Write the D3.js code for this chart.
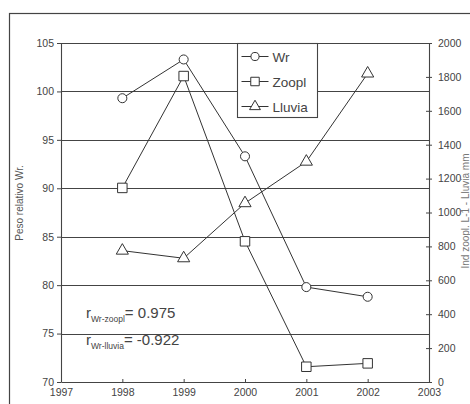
<!DOCTYPE html>
<html>
<head>
<meta charset="utf-8">
<script src="https://cdn.jsdelivr.net/npm/d3@7"></script>
<style>
  body { margin: 0; background: #fff; }
  svg { font-family: "Liberation Sans", Arial, sans-serif; }
</style>
</head>
<body>
<div id="chart"></div>
<script>
var w = 470,
    h = 404;

// data
var years = [1998, 1999, 2000, 2001, 2002];
var wr = [99.3, 103.3, 93.3, 79.8, 78.8];
var zoopl = [1145, 1805, 830, 90, 110];
var lluvia = [775, 730, 1055, 1300, 1820];
var leftTicks = [70, 75, 80, 85, 90, 95, 100, 105];
var rightTicks = [0, 200, 400, 600, 800, 1000, 1200, 1400, 1600, 1800, 2000];
var xTicks = [1997, 1998, 1999, 2000, 2001, 2002, 2003];

var m = {left: 61, right: 429, top: 43, bottom: 382};
var ink = '#333';

var svg = d3.select('#chart').append('svg').attr('width', w).attr('height', h);

// outer frame
svg.append('rect')
   .attr('x', 9.5).attr('y', 13.5)
   .attr('width', 480).attr('height', 420)
   .attr('fill', 'none').attr('stroke', '#444').attr('stroke-width', 1.2);

var x = d3.scaleLinear().domain([1997, 2003]).range([m.left, m.right]);
var yL = d3.scaleLinear().domain([70, 105]).range([m.bottom, m.top]);
var yR = d3.scaleLinear().domain([0, 2000]).range([m.bottom, m.top]);

// gridlines
svg.append('g').selectAll('line')
   .data(leftTicks.slice(1))
   .enter().append('line')
   .attr('x1', m.left).attr('x2', m.right)
   .attr('y1', function (d) { return Math.round(yL(d)) + 0.5; })
   .attr('y2', function (d) { return Math.round(yL(d)) + 0.5; })
   .attr('stroke', '#444').attr('stroke-width', 1.1);

var styleAxis = function (g) {
  g.select('.domain').attr('stroke', '#444').attr('stroke-width', 1.1);
  g.selectAll('.tick line').attr('stroke', '#444');
  g.selectAll('.tick text').attr('fill', '#444').attr('font-size', 10.5);
};

svg.append('g')
   .attr('transform', 'translate(' + m.left + ',0)')
   .call(d3.axisLeft(yL).tickValues(leftTicks).tickSize(4).tickSizeOuter(0))
   .call(styleAxis);

svg.append('g')
   .attr('transform', 'translate(' + m.right + ',0)')
   .call(d3.axisRight(yR).tickValues(rightTicks).tickFormat(d3.format('d')).tickSize(3).tickSizeOuter(0).tickPadding(6))
   .call(styleAxis)
   .selectAll('.tick line').attr('x1', -3).attr('x2', 3);

svg.append('g')
   .attr('transform', 'translate(0,' + m.bottom + ')')
   .call(d3.axisBottom(x).tickValues(xTicks).tickFormat(d3.format('d')).tickSize(3).tickSizeOuter(0).tickPadding(4))
   .call(styleAxis)
   .selectAll('.tick line').attr('y1', -3).attr('y2', 0);

// axis titles
svg.append('text')
   .attr('transform', 'translate(23,' + 203 + ') rotate(-90)')
   .attr('text-anchor', 'middle')
   .attr('font-size', 10).attr('fill', '#555')
   .text('Peso relativo Wr.');

svg.append('text')
   .attr('transform', 'translate(469,' + 211 + ') rotate(-90)')
   .attr('text-anchor', 'middle')
   .attr('font-size', 10).attr('fill', '#777')
   .text('Ind zoopl. L-1  -  Lluvia mm');

// series
var series = [
  {name: 'Wr', vals: wr, y: yL, sym: d3.symbolCircle, size: 64},
  {name: 'Zoopl', vals: zoopl, y: yR, sym: d3.symbolSquare, size: 90},
  {name: 'Lluvia', vals: lluvia, y: yR, sym: d3.symbolTriangle, size: 64}
];

series.forEach(function (s) {
  var pts = years.map(function (yr, i) { return [x(yr), s.y(s.vals[i])]; });
  svg.append('path')
     .attr('d', d3.line()(pts))
     .attr('fill', 'none').attr('stroke', ink).attr('stroke-width', 1);
  svg.append('g').selectAll('path')
     .data(pts)
     .enter().append('path')
     .attr('d', d3.symbol().type(s.sym).size(s.size))
     .attr('transform', function (p) { return 'translate(' + p[0] + ',' + p[1] + ')'; })
     .attr('fill', '#fff').attr('stroke', ink).attr('stroke-width', 1);
});

// legend
var lg = svg.append('g').attr('transform', 'translate(237.5,43.5)');
lg.append('rect')
  .attr('width', 80).attr('height', 74)
  .attr('fill', '#fff').attr('stroke', '#444').attr('stroke-width', 1.1);
series.forEach(function (s, i) {
  var ly = 13 + i * 25;
  lg.append('line').attr('x1', 4).attr('x2', 31).attr('y1', ly).attr('y2', ly)
    .attr('stroke', ink);
  lg.append('path')
    .attr('d', d3.symbol().type(s.sym).size(s.size * 0.8))
    .attr('transform', 'translate(17.5,' + ly + ')')
    .attr('fill', '#fff').attr('stroke', ink);
  lg.append('text').attr('x', 35).attr('y', ly + 5)
    .attr('font-size', 13.5).attr('fill', '#444')
    .text(s.name);
});

// correlation notes
var notes = [
  {sub: 'Wr-zoopl', val: '= 0.975', y: 318},
  {sub: 'Wr-lluvia', val: '= -0.922', y: 345}
];
notes.forEach(function (n) {
  var t = svg.append('text').attr('x', 86).attr('y', n.y)
     .attr('fill', '#444').attr('font-size', 15);
  t.append('tspan').text('r');
  t.append('tspan').attr('dy', 4).attr('font-size', 8.5).text(n.sub);
  t.append('tspan').attr('dy', -4).text(n.val);
});
</script>
</body>
</html>
